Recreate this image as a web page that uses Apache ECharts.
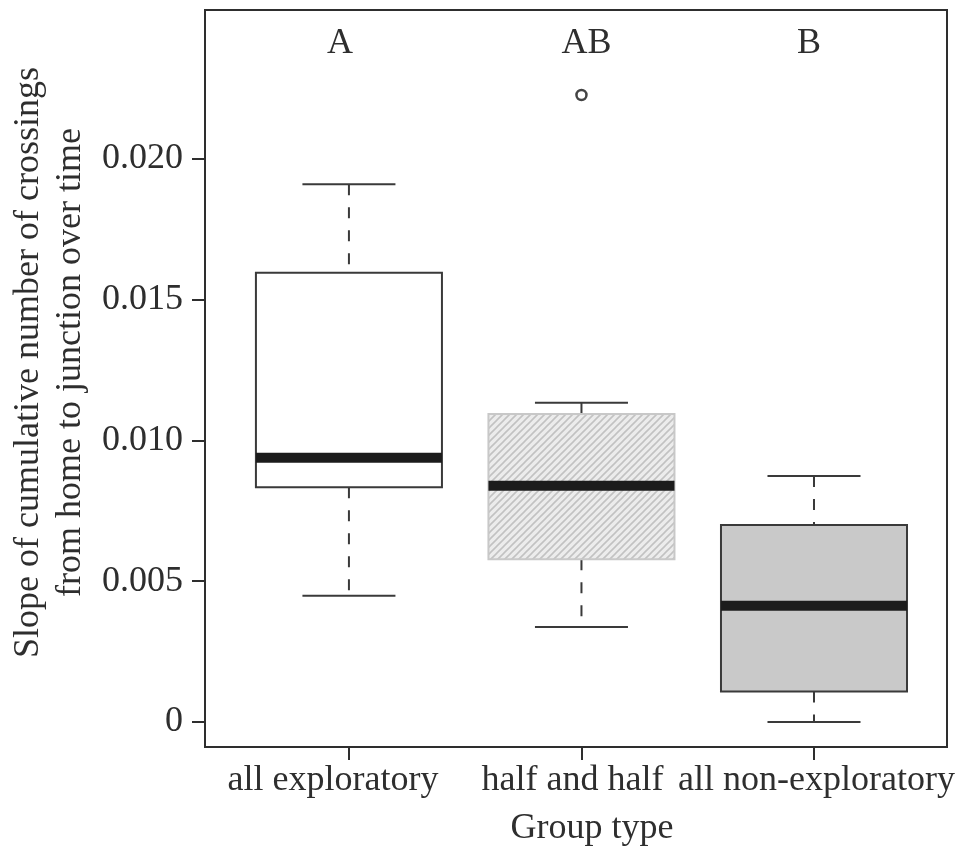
<!DOCTYPE html>
<html>
<head>
<meta charset="utf-8">
<script src="https://cdn.jsdelivr.net/npm/echarts@6/dist/echarts.min.js"></script>
<style>
html,body{margin:0;padding:0;background:#fff;}
#chart{width:962px;height:853px;}
</style>
</head>
<body>
<div id="chart"></div>
<script>
// ---- data ----
var categories = ['all exploratory', 'half and half', 'all non-exploratory'];
var lowerWhisker = [0.00448, 0.00337, 0.0000];
var lowerQuartile = [0.00834, 0.00578, 0.00108];
var medians = [0.00939, 0.00839, 0.00413];
var upperQuartile = [0.01596, 0.01094, 0.00700];
var upperWhisker = [0.01910, 0.01134, 0.00874];
var outliers = [[2, 0.02227]];
var letters = ['A', 'AB', 'B'];
var yTicks = [0, 0.005, 0.010, 0.015, 0.020];

// ---- styles ----
var FONT = '"Liberation Serif", "Times New Roman", serif';
var INK = '#2e2e2e';
function makeHatch() {
  var s = 7;
  var c = document.createElement('canvas');
  c.width = s; c.height = s;
  var ctx = c.getContext('2d');
  ctx.fillStyle = '#ececec';
  ctx.fillRect(0, 0, s, s);
  ctx.strokeStyle = '#c2c2c2';
  ctx.lineWidth = 1.6;
  ctx.beginPath();
  ctx.moveTo(0, s); ctx.lineTo(s, 0);
  ctx.moveTo(-1, 1); ctx.lineTo(1, -1);
  ctx.moveTo(s - 1, s + 1); ctx.lineTo(s + 1, s - 1);
  ctx.stroke();
  return c;
}
var boxStyles = [
  { fill: '#ffffff', stroke: '#3a3a3a' },
  { fill: { type: 'pattern', image: makeHatch(), repeat: 'repeat' }, stroke: '#c8c8c8' },
  { fill: '#c9c9c9', stroke: '#3a3a3a' }
];
var letterShift = [-9, 5, -5];
var labelPad = [[0, 32, 0, 0], [0, 18, 0, 0], [0, 0, 0, 5]];

var boxData = categories.map(function (c, i) {
  return [i + 1, lowerWhisker[i], lowerQuartile[i], medians[i], upperQuartile[i], upperWhisker[i]];
});
var letterData = letters.map(function (l, i) {
  return { value: [i + 1, 0.0241], label: { offset: [letterShift[i], 0] } };
});

var rich = {};
labelPad.forEach(function (p, i) {
  rich['s' + i] = { fontFamily: FONT, fontSize: 36, color: INK, padding: p };
});

var chart = echarts.init(document.getElementById('chart'));
chart.setOption({
  animation: false,
  backgroundColor: '#ffffff',
  grid: {
    left: 205, right: 15, top: 10, bottom: 106,
    show: true, borderColor: INK, borderWidth: 2, backgroundColor: 'transparent',
    outerBoundsMode: 'none'
  },
  xAxis: {
    type: 'value',
    min: 0.381, max: 3.572,
    axisLine: { show: false, onZero: false },
    splitLine: { show: false },
    axisTick: { show: true, inside: false, length: 13, customValues: [1, 2, 3], lineStyle: { color: INK, width: 2 } },
    axisLabel: {
      customValues: [1, 2, 3],
      margin: 16,
      hideOverlap: false,
      fontFamily: FONT, fontSize: 36, color: INK,
      formatter: function (v) {
        var i = Math.round(v) - 1;
        return '{s' + i + '|' + categories[i] + '}';
      },
      rich: rich
    },
    name: 'Group type',
    nameLocation: 'middle',
    nameGap: 64,
    nameTextStyle: { fontFamily: FONT, fontSize: 36, color: INK, padding: [0, 0, 0, 32] }
  },
  yAxis: {
    type: 'value',
    min: -0.000888, max: 0.02529,
    axisLine: { show: false, onZero: false },
    splitLine: { show: false },
    axisTick: { show: true, inside: false, length: 13, customValues: yTicks, lineStyle: { color: INK, width: 2 } },
    axisLabel: {
      customValues: yTicks,
      margin: 22,
      fontFamily: FONT, fontSize: 36, color: INK,
      formatter: function (v) { return Math.abs(v) < 1e-12 ? '0' : v.toFixed(3); }
    },
    name: 'Slope of cumulative number of crossings\nfrom home to junction over time',
    nameLocation: 'middle',
    nameRotate: 90,
    nameGap: 110,
    nameTextStyle: { fontFamily: FONT, fontSize: 36, color: INK, lineHeight: 42, padding: [0, 0, 0, 32] }
  },
  series: [
    {
      type: 'custom',
      data: boxData,
      renderItem: function (params, api) {
        var i = params.dataIndex;
        var x = api.value(0);
        var lo = api.value(1), q1 = api.value(2), md = api.value(3), q3 = api.value(4), hi = api.value(5);
        var half = 0.4, cap = 0.2;
        var pL = api.coord([x - half, q3]);
        var pR = api.coord([x + half, q1]);
        var pc = function (xx, yy) { return api.coord([xx, yy]); };
        var st = boxStyles[i];
        var children = [];
        var whiskerStyle = { stroke: '#3a3a3a', lineWidth: 2, lineDash: [11, 12] };
        var a = pc(x, hi), b = pc(x, q3);
        children.push({ type: 'line', shape: { x1: a[0], y1: a[1], x2: b[0], y2: b[1] }, style: whiskerStyle });
        a = pc(x, q1); b = pc(x, lo);
        children.push({ type: 'line', shape: { x1: a[0], y1: a[1], x2: b[0], y2: b[1] }, style: whiskerStyle });
        [hi, lo].forEach(function (v) {
          var l = pc(x - cap, v), r = pc(x + cap, v);
          children.push({ type: 'line', shape: { x1: l[0], y1: l[1], x2: r[0], y2: r[1] }, style: { stroke: '#3a3a3a', lineWidth: 2 } });
        });
        children.push({
          type: 'rect',
          shape: { x: pL[0], y: pL[1], width: pR[0] - pL[0], height: pR[1] - pL[1] },
          style: { fill: st.fill, stroke: st.stroke, lineWidth: 2 }
        });
        var ml = pc(x - half, md), mr = pc(x + half, md);
        children.push({ type: 'line', shape: { x1: ml[0], y1: ml[1], x2: mr[0], y2: mr[1] }, style: { stroke: '#1c1c1c', lineWidth: 10, lineCap: 'butt' } });
        return { type: 'group', children: children };
      },
      z: 2
    },
    {
      type: 'scatter',
      data: outliers,
      symbol: 'circle',
      symbolSize: 10,
      itemStyle: { color: 'rgba(0,0,0,0)', borderColor: '#444', borderWidth: 2.5, opacity: 1 },
      z: 3
    },
    {
      type: 'scatter',
      data: letterData,
      symbolSize: 0,
      itemStyle: { opacity: 1 },
      label: {
        show: true, position: 'inside',
        fontFamily: FONT, fontSize: 36, color: INK, opacity: 1,
        formatter: function (p) { return letters[p.dataIndex]; }
      },
      z: 3
    }
  ]
});
</script>
</body>
</html>
